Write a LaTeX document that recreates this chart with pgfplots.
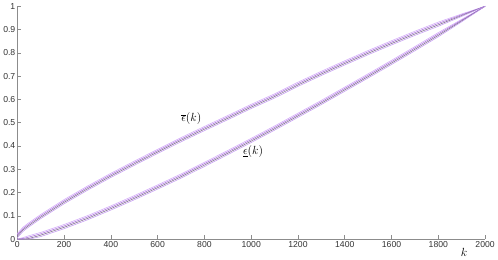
\documentclass[border=0pt]{standalone}
\usepackage{pgfplots}
\pgfplotsset{compat=1.18}
\usepackage{pgfplotstable}
\usepackage{fontspec}
\setmainfont{Liberation Sans}
\definecolor{lavA}{HTML}{D3A8FA}
\definecolor{purB}{HTML}{A66ED8}
\definecolor{grC}{HTML}{7D6A8C}
\definecolor{lavD}{HTML}{C39AF0}
\definecolor{axgray}{HTML}{8C8C8C}
\pgfplotstableread{
k U1 U2 U3 U4 L1 L2 L3 L4
0 0.024 0.018 0.012 0.006 0.000 0.000 0.000 0.000
25 0.052 0.046 0.040 0.034 0.007 0.003 0.000 0.000
50 0.071 0.065 0.059 0.053 0.015 0.009 0.003 0.000
100 0.106 0.100 0.094 0.088 0.029 0.023 0.017 0.011
200 0.170 0.164 0.158 0.152 0.063 0.057 0.051 0.045
300 0.228 0.222 0.216 0.210 0.101 0.095 0.089 0.083
400 0.283 0.277 0.271 0.265 0.143 0.137 0.131 0.125
500 0.335 0.329 0.323 0.317 0.187 0.181 0.175 0.169
600 0.386 0.380 0.374 0.368 0.233 0.227 0.221 0.215
700 0.436 0.430 0.424 0.418 0.280 0.274 0.268 0.262
800 0.484 0.478 0.472 0.466 0.330 0.324 0.318 0.312
900 0.531 0.525 0.519 0.513 0.381 0.375 0.369 0.363
1000 0.579 0.573 0.567 0.561 0.433 0.427 0.421 0.415
1100 0.624 0.618 0.612 0.606 0.486 0.480 0.474 0.468
1200 0.674 0.668 0.662 0.656 0.541 0.535 0.529 0.523
1300 0.721 0.715 0.709 0.703 0.596 0.590 0.584 0.578
1400 0.766 0.760 0.754 0.748 0.653 0.647 0.641 0.635
1500 0.810 0.804 0.798 0.792 0.710 0.704 0.698 0.692
1600 0.852 0.846 0.840 0.834 0.768 0.762 0.756 0.750
1700 0.893 0.887 0.881 0.875 0.827 0.821 0.815 0.809
1800 0.932 0.926 0.920 0.914 0.887 0.881 0.875 0.869
1900 0.967 0.9635 0.960 0.9565 0.944 0.9405 0.937 0.9335
2000 1 1 1 1 1 1 1 1
}\data
\begin{document}
\begin{tikzpicture}
\begin{axis}[
  scale only axis,
  width=476pt, height=237pt,
  xmin=0, xmax=2000, ymin=0, ymax=1,
  axis x line*=bottom, axis y line*=left,
  axis line style={axgray, line width=0.6pt},
  tick style={axgray, line width=0.6pt},
  tick align=inside,
  major tick length=4pt,
  xtick={0,200,...,2000},
  ytick={0,0.1,...,1},
  yticklabels={0,0.1,0.2,0.3,0.4,0.5,0.6,0.7,0.8,0.9,1},
  /pgf/number format/assume math mode=true,
  /pgf/number format/1000 sep={},
  ticklabel style={font=\fontsize{8.8}{10}\selectfont, text=black!80},
  xticklabel style={yshift=1pt},
  yticklabel style={xshift=1.5pt},
  clip=false,
]
\addplot[lavA, line width=0.55pt] table[x=k,y=U1]{\data};
\addplot[purB, line width=0.55pt] table[x=k,y=U2]{\data};
\addplot[grC, line width=0.55pt] table[x=k,y=U3]{\data};
\addplot[lavD, line width=0.55pt] table[x=k,y=U4]{\data};
\addplot[lavA, line width=0.55pt] table[x=k,y=L1]{\data};
\addplot[purB, line width=0.55pt] table[x=k,y=L2]{\data};
\addplot[grC, line width=0.55pt] table[x=k,y=L3]{\data};
\addplot[lavD, line width=0.55pt] table[x=k,y=L4]{\data};
\node[font=\fontsize{12}{14}\selectfont] at (axis cs:744,0.519) {$\overline{\epsilon}(k)$};
\node[font=\fontsize{12}{14}\selectfont] at (axis cs:1008,0.375) {$\underline{\epsilon}(k)$};
\node[font=\fontsize{12}{14}\selectfont] at (axis cs:1910,-0.055) {$k$};
\end{axis}
\end{tikzpicture}
\end{document}
